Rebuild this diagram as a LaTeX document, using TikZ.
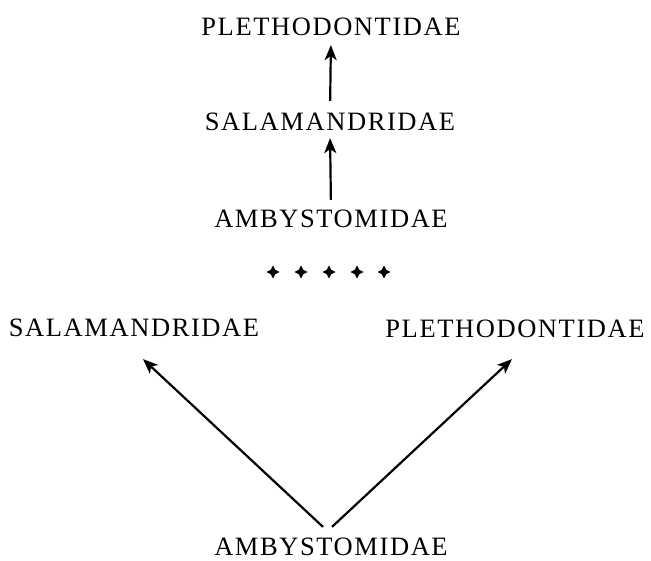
\documentclass[tikz,border=0pt]{standalone}
\usepackage{fontspec}
\setmainfont[LetterSpace=6]{Liberation Serif}
\usetikzlibrary{arrows.meta}
\begin{document}
\begin{tikzpicture}[x=1pt,y=1pt,
  taxon/.style={inner sep=0pt, font=\fontsize{26.5}{27}\selectfont},
  arr/.style={line width=2.2pt, -{Stealth[length=15pt,width=12pt,inset=4pt]}},
  dot/.style={fill=black}]
\useasboundingbox (0,0) rectangle (651,-561);
% top chain
\node[taxon] (p1) at (331,-27) {PLETHODONTIDAE};
\node[taxon] (s1) at (330,-122) {SALAMANDRIDAE};
\node[taxon] (a1) at (331,-219) {AMBYSTOMIDAE};
\draw[arr, shorten <=12pt, shorten >=9pt] (s1.north) -- (p1.south);
\draw[arr, shorten <=10pt, shorten >=7pt] (a1.north) -- (s1.south);
% stars
\foreach \i/\x in {1/273,2/301,3/329,4/357,5/384}{
  \coordinate (d\i) at (\x,-272);
  \fill[dot] (d\i) ++(0,6.5) -- ++(-2.2,-4.3) -- ++(-4.3,-2.2) -- ++(4.3,-2.2) -- ++(2.2,-4.3) -- ++(2.2,4.3) -- ++(4.3,2.2) -- ++(-4.3,2.2) -- cycle;
}
% bottom tree
\node[taxon] (s2) at (134,-328) {SALAMANDRIDAE};
\node[taxon] (p2) at (515,-329) {PLETHODONTIDAE};
\node[taxon] (a2) at (331,-547) {AMBYSTOMIDAE};
\draw[arr] ([xshift=-8pt,yshift=11pt]a2.north) -- ([xshift=9pt,yshift=-22pt]s2.south);
\draw[arr] ([xshift=1pt,yshift=11pt]a2.north) -- ([xshift=-3pt,yshift=-21pt]p2.south);
\end{tikzpicture}
\end{document}
